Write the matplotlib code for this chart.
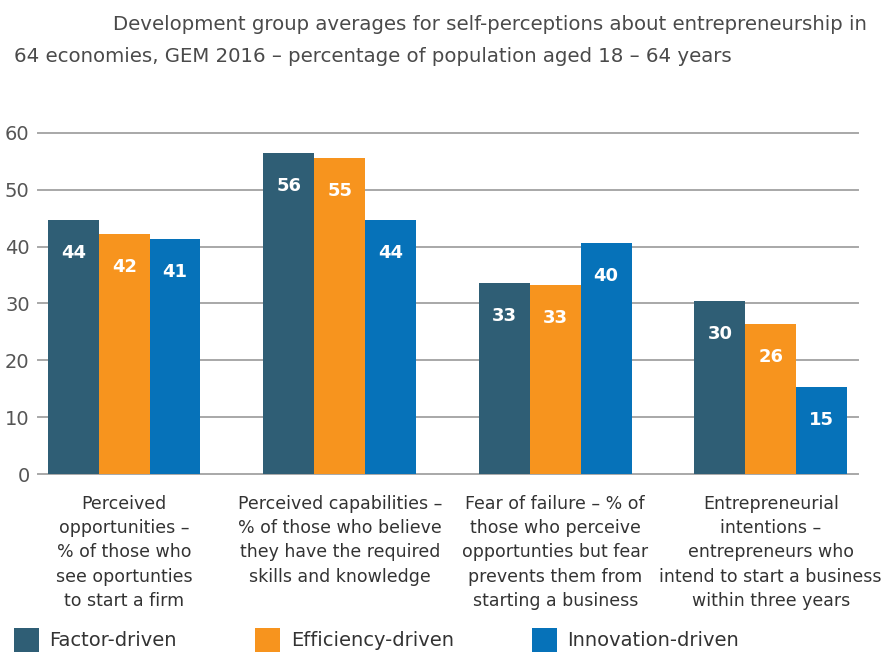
import matplotlib
matplotlib.use("Agg")
import matplotlib.pyplot as plt
import numpy as np

plt.rcParams['font.family'] = ['DejaVu Sans']

categories = [
    "Perceived\nopportunities –\n% of those who\nsee oportunties\nto start a firm",
    "Perceived capabilities –\n% of those who believe\nthey have the required\nskills and knowledge",
    "Fear of failure – % of\nthose who perceive\nopportunties but fear\nprevents them from\nstarting a business",
    "Entrepreneurial\nintentions –\nentrepreneurs who\nintend to start a business\nwithin three years",
]
series_names = ["Factor-driven", "Efficiency-driven", "Innovation-driven"]
factor = [44.7, 56.5, 33.6, 30.5]
efficiency = [42.3, 55.6, 33.3, 26.4]
innovation = [41.4, 44.7, 40.7, 15.3]
factor_lbl = [44, 56, 33, 30]
efficiency_lbl = [42, 55, 33, 26]
innovation_lbl = [41, 44, 40, 15]
yticks = [0, 10, 20, 30, 40, 50, 60]

colors = ['#2F5E75', '#F7941E', '#0672B9']

fig = plt.figure(figsize=(8.85, 6.53), dpi=100)
ax = fig.add_axes([38/885, 1-474/653, (858-38)/885, (474-133)/653])

x = np.arange(len(categories))
w = 0.236
handles = []
for i, (vals, lbls) in enumerate([(factor, factor_lbl), (efficiency, efficiency_lbl), (innovation, innovation_lbl)]):
    b = ax.bar(x + (i-1)*w, vals, w, color=colors[i], label=series_names[i], zorder=3)
    handles.append(b)
    for rect, l in zip(b, lbls):
        ax.annotate(str(l), (rect.get_x()+rect.get_width()/2, rect.get_height()),
                    xytext=(0, -24), textcoords='offset points', ha='center', va='center',
                    color='white', fontsize=13, fontweight='bold', zorder=4)

ax.set_ylim(0, 60)
ax.set_xlim(-0.40, 3.405)
ax.set_yticks(yticks)
ax.yaxis.grid(True, color='#A8A8A8', linewidth=1.4, zorder=0)
ax.set_axisbelow(True)
for gl in ax.get_ygridlines():
    gl.set_clip_on(False)
for s in ax.spines.values():
    s.set_visible(False)
ax.tick_params(axis='y', length=0, labelsize=14, labelcolor='#555555', pad=6)
ax.set_xticks(x)
ax.set_xticklabels(categories, fontsize=12.5, color='#333333', linespacing=1.45)
ax.tick_params(axis='x', length=0, pad=15)
for t in ax.get_xticklabels():
    t.set_verticalalignment('top')

fig.text(113/885, 1-24/653, "Development group averages for self-perceptions about entrepreneurship in",
         fontsize=14.2, color='#4a4a4a', va='center', ha='left')
fig.text(14/885, 1-57/653, "64 economies, GEM 2016 – percentage of population aged 18 – 64 years",
         fontsize=14.2, color='#4a4a4a', va='center', ha='left')

fig.legend(handles=handles, labels=series_names, loc='center left',
           bbox_to_anchor=(-4/885, 1-640/653), ncol=3, frameon=False,
           fontsize=14, handlelength=1.3, handleheight=1.5, handletextpad=0.55,
           columnspacing=4.0, labelcolor='#333333')

fig.savefig("out.png", dpi=100)
